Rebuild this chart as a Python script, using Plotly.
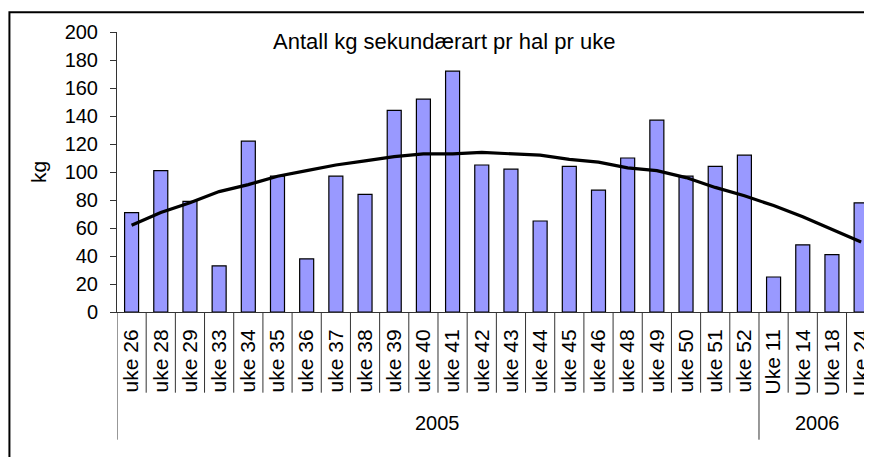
import plotly.graph_objects as go

weeks = ["uke 26", "uke 28", "uke 29", "uke 33", "uke 34", "uke 35", "uke 36",
         "uke 37", "uke 38", "uke 39", "uke 40", "uke 41", "uke 42", "uke 43",
         "uke 44", "uke 45", "uke 46", "uke 48", "uke 49", "uke 50", "uke 51",
         "uke 52", "Uke 11", "Uke 14", "Uke 18", "Uke 24"]
kg = [71, 101, 79, 33, 122, 97, 38, 97, 84, 144, 152, 172, 105, 102, 65,
      104, 87, 110, 137, 97, 104, 112, 25, 48, 41, 78]
trend = [62, 71, 78, 86, 91, 97, 101, 105, 108, 111, 113, 113, 114, 113, 112,
         109, 107, 103, 101, 96, 89, 83, 76, 68, 59, 50]
year_labels = ["2005", "2006"]
year_counts = [22, 4]
title_text = "Antall kg sekundærart pr hal pr uke"
y_title = "kg"

FONT = "Arial, Liberation Sans, sans-serif"

# the page body adds an 8px offset; work in page pixels and convert
OFF = 8
W, H = 872 - OFF, 457 - OFF
PL, PT, PB = 117, 32.3, 312.3          # plot area in page pixels
ml, mt = PL - OFF, round(PT - OFF)
mb = round(H - (PB - OFF))
plot_h = H - mt - mb
plot_w = W - ml


def py(p):  # page y pixel -> paper y
    return (PB - p) / plot_h


def px(p):  # page x pixel -> paper x
    return (p - PL) / plot_w


fig = go.Figure()
fig.add_trace(go.Bar(
    x=weeks, y=kg,
    marker=dict(color="#9999FF", line=dict(color="black", width=1.2)),
    showlegend=False,
))
fig.add_trace(go.Scatter(
    x=weeks, y=trend, mode="lines",
    line=dict(color="black", width=3.2),
    showlegend=False,
))

shapes = []
n = len(weeks)
group_edges = [0]
acc = 0
for c in year_counts:
    acc += c
    group_edges.append(acc)
for i in range(n + 1):
    long = i in group_edges
    y_end = py(440) if long else py(393)
    shapes.append(dict(type="line", xref="x", yref="paper",
                       x0=i - 0.5, x1=i - 0.5, y0=0, y1=y_end,
                       line=dict(color="#333333", width=1)))
# outer chart border
shapes.append(dict(type="rect", xref="paper", yref="paper",
                   x0=px(9), x1=1.2, y0=-0.8, y1=py(12.5),
                   line=dict(color="black", width=2), layer="below"))

annotations = []
start = 0
for lab, c in zip(year_labels, year_counts):
    annotations.append(dict(text=lab, xref="x", yref="paper",
                            x=start + (c - 1) / 2, y=py(423),
                            showarrow=False, xanchor="center", yanchor="middle",
                            font=dict(family=FONT, size=20, color="black")))
    start += c
annotations.append(dict(text=title_text, xref="paper", yref="paper",
                        x=px(445.5), y=py(41.5),
                        showarrow=False, xanchor="center", yanchor="middle",
                        font=dict(family=FONT, size=22, color="black")))
annotations.append(dict(text=y_title, xref="paper", yref="paper",
                        x=px(38), y=py(172),
                        showarrow=False, textangle=-90,
                        xanchor="center", yanchor="middle",
                        font=dict(family=FONT, size=21, color="black")))

fig.update_layout(
    width=W, height=H,
    margin=dict(l=ml, r=0, t=mt, b=mb, pad=0),
    paper_bgcolor="white", plot_bgcolor="white",
    bargap=0.52,
    font=dict(family=FONT, color="black"),
    shapes=shapes, annotations=annotations,
    xaxis=dict(type="category", range=[-0.5, 25.27], tickangle=-90,
               showline=True, linecolor="#333333", linewidth=1,
               ticks="", showgrid=False, zeroline=False,
               tickfont=dict(family=FONT, size=21, color="black"),
               ticklabelstandoff=8),
    yaxis=dict(range=[0, 200], dtick=20, tick0=0,
               showline=True, linecolor="#333333", linewidth=1,
               ticks="outside", ticklen=6, tickcolor="#333333",
               showgrid=False, zeroline=False,
               tickfont=dict(family=FONT, size=20, color="black"),
               ticklabelstandoff=8),
)

fig.write_html("out.html")
